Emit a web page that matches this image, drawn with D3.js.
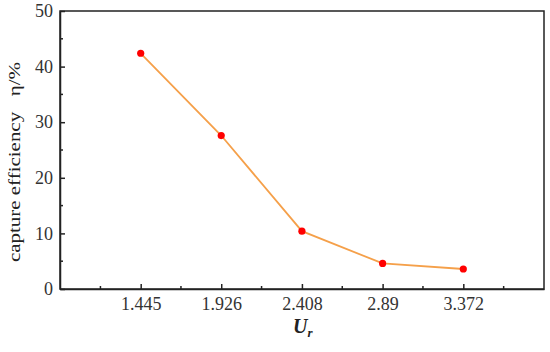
<!DOCTYPE html>
<html><head><meta charset="utf-8">
<script src="https://cdn.jsdelivr.net/npm/d3@7"></script>
<style>body{margin:0;background:#fff}svg{display:block}</style>
</head><body>
<svg id="c" width="550" height="352"></svg>
<script>
const categories = [1.445, 1.926, 2.408, 2.89, 3.372];
const tickLabels = ["1.445", "1.926", "2.408", "2.89", "3.372"];
const efficiency = [42.4, 27.6, 10.4, 4.6, 3.6];
const yTicks = [0, 10, 20, 30, 40, 50];

const FONT = "Liberation Serif";
const svg = d3.select("#c");
const L = 60, R = 544, T = 11, B = 289;
const x = d3.scaleLinear().domain([0.963, 3.854]).range([L, R]);
const y = d3.scaleLinear().domain([0, 50]).range([B, T]);

// frame
svg.append("rect").attr("x", L).attr("y", T).attr("width", R - L).attr("height", B - T)
  .attr("fill", "none").attr("stroke", "#222").attr("stroke-width", 1.5);

// x axis
const minorX = [];
for (let i = -1; i < categories.length; i++) {
  const a = i < 0 ? categories[0] - (categories[1] - categories[0]) : categories[i];
  const b = i + 1 < categories.length ? categories[i + 1] : categories[i] + (categories[i] - categories[i - 1]);
  minorX.push((a + b) / 2);
}
const xAxis = d3.axisBottom(x).tickValues(categories).tickFormat((d, i) => tickLabels[i])
  .tickSizeInner(-5).tickSizeOuter(0).tickPadding(8);
const gx = svg.append("g").attr("transform", `translate(0,${B})`).call(xAxis);
gx.attr("font-family", FONT);
gx.select(".domain").attr("stroke", "#222").attr("stroke-width", 1.5);
gx.selectAll(".tick line").attr("stroke", "#222").attr("stroke-width", 1.5);
gx.selectAll("text").attr("font-family", FONT).attr("font-size", 18).attr("fill", "#333");
svg.append("g").selectAll("line").data(minorX).join("line")
  .attr("x1", d => x(d)).attr("x2", d => x(d)).attr("y1", B).attr("y2", B - 3)
  .attr("stroke", "#222").attr("stroke-width", 1.5);

// y axis
const yAxis = d3.axisLeft(y).tickValues(yTicks).tickSizeInner(-5).tickSizeOuter(0).tickPadding(7);
const gy = svg.append("g").attr("transform", `translate(${L},0)`).call(yAxis);
gy.attr("font-family", FONT);
gy.select(".domain").attr("stroke", "#222").attr("stroke-width", 1.5);
gy.selectAll(".tick line").attr("stroke", "#222").attr("stroke-width", 1.5);
gy.selectAll("text").attr("font-family", FONT).attr("font-size", 18).attr("fill", "#333");
svg.append("g").selectAll("line").data([5, 15, 25, 35, 45]).join("line")
  .attr("x1", L).attr("x2", L + 3).attr("y1", d => y(d)).attr("y2", d => y(d))
  .attr("stroke", "#222").attr("stroke-width", 1.5);

// line
const line = d3.line().x((d, i) => x(categories[i])).y(d => y(d));
svg.append("path").datum(efficiency).attr("d", line)
  .attr("fill", "none").attr("stroke", "#f5a04a").attr("stroke-width", 1.8);
svg.append("g").selectAll("circle").data(efficiency).join("circle")
  .attr("cx", (d, i) => x(categories[i])).attr("cy", d => y(d)).attr("r", 3.6)
  .attr("fill", "#ff0000");

// labels
svg.append("text").attr("transform", "translate(20,162) rotate(-90)")
  .attr("text-anchor", "middle").attr("font-family", FONT).attr("font-size", 16).attr("fill", "#222")
  .attr("textLength", 200).attr("lengthAdjust", "spacingAndGlyphs")
  .attr("xml:space", "preserve").text("capture efficiency   η/%");
const xl = svg.append("text").attr("x", 293).attr("y", 333).attr("font-family", FONT)
  .attr("font-size", 20).attr("font-weight", "bold").attr("font-style", "italic").attr("fill", "#222");
xl.append("tspan").text("U");
xl.append("tspan").attr("font-size", 13).attr("dy", 4).text("r");
</script>
</body></html>
